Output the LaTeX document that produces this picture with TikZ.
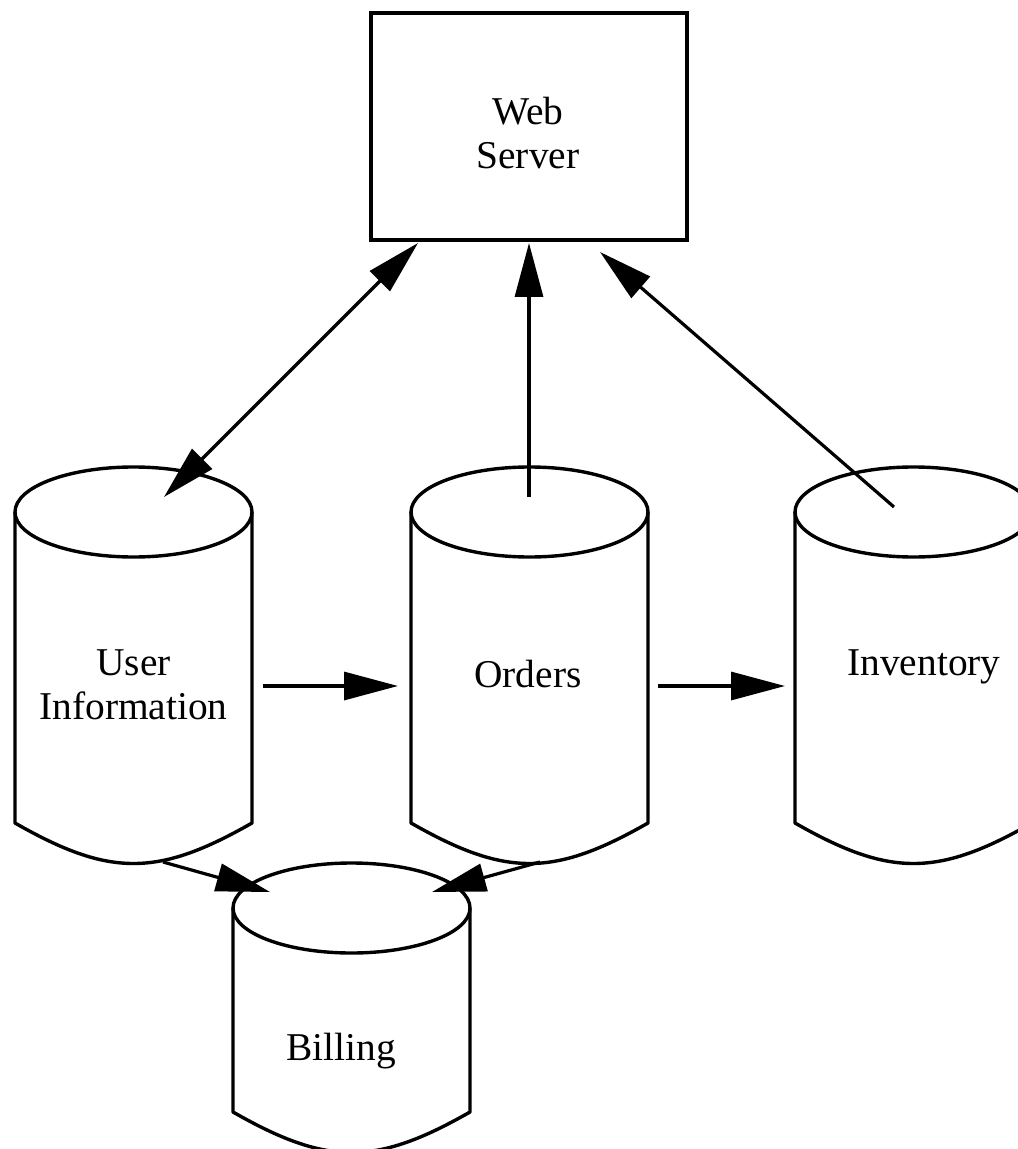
\documentclass[tikz,border=0pt]{standalone}
\usepackage{fontspec}
\setmainfont{Liberation Serif}
\usetikzlibrary{arrows.meta}

% Database drum: #1 centre x, #2 centre y of the top ellipse, #3 y of the lower corners
\newcommand\dbdrum[3]{%
  \draw[drum] (#1,#2) ellipse [x radius=118.5, y radius=45];
  \draw[drum] (#1-118.5,#2) -- (#1-118.5,#3)
    .. controls (#1-24,#3+54) and (#1+24,#3+54) .. (#1+118.5,#3)
    -- (#1+118.5,#2);
}

\begin{document}
\begin{tikzpicture}[x=0.5pt, y=-0.5pt,
  drum/.style={line width=1.7pt, line join=round},
  serverbox/.style={draw, line width=2pt, minimum width=158pt, minimum height=113.5pt, inner sep=0pt},
  label/.style={font=\fontsize{19.7pt}{22pt}\selectfont, align=center, inner sep=0pt},
  link/.style={line width=1.6pt, -{Triangle[length=27pt, width=14pt]}},
  duplex/.style={line width=1.6pt, {Triangle[length=27pt, width=14pt]}-{Triangle[length=27pt, width=14pt]}}]
\useasboundingbox[fill=white] (0,0) rectangle (1017,1149);

% web server
\node[serverbox] (web) at (529,126.5) {};
\node[label] (weblabel) at (528,133) {Web\\Server};

% databases
\dbdrum{133.5}{512}{823}
\dbdrum{529.5}{512}{823}
\dbdrum{913.5}{512}{823}
\dbdrum{351.5}{908}{1112}

\node[label] (ui) at (133.5,685) {User\\Information};
\node[label, anchor=base] (ord) at (528,687) {Orders};
\node[label, anchor=base] (inv) at (924,675) {Inventory};
\node[label, anchor=base] (bill) at (341,1060) {Billing};

% connector ends
\coordinate (web-ui)   at (418,243);
\coordinate (web-ord)  at (529,243);
\coordinate (web-inv)  at (600,252);
\coordinate (ui-top)   at (164,497);
\coordinate (ord-top)  at (529,497);
\coordinate (inv-top)  at (894,507);
\coordinate (ui-right) at (263,686);
\coordinate (ord-left) at (398,686);
\coordinate (ord-right) at (658,686);
\coordinate (inv-left) at (785,686);
\coordinate (ui-bot)   at (163,862);
\coordinate (ord-bot)  at (540,862);
\coordinate (bill-l)   at (270,892);
\coordinate (bill-r)   at (432,892);

% connectors
\draw[duplex] (ui-top) -- (web-ui);
\draw[link] (ord-top) -- (web-ord);
\draw[link] (inv-top) -- (web-inv);
\draw[link] (ui-right) -- (ord-left);
\draw[link] (ord-right) -- (inv-left);
\draw[link] (ui-bot) -- (bill-l);
\draw[link] (ord-bot) -- (bill-r);
\end{tikzpicture}
\end{document}
